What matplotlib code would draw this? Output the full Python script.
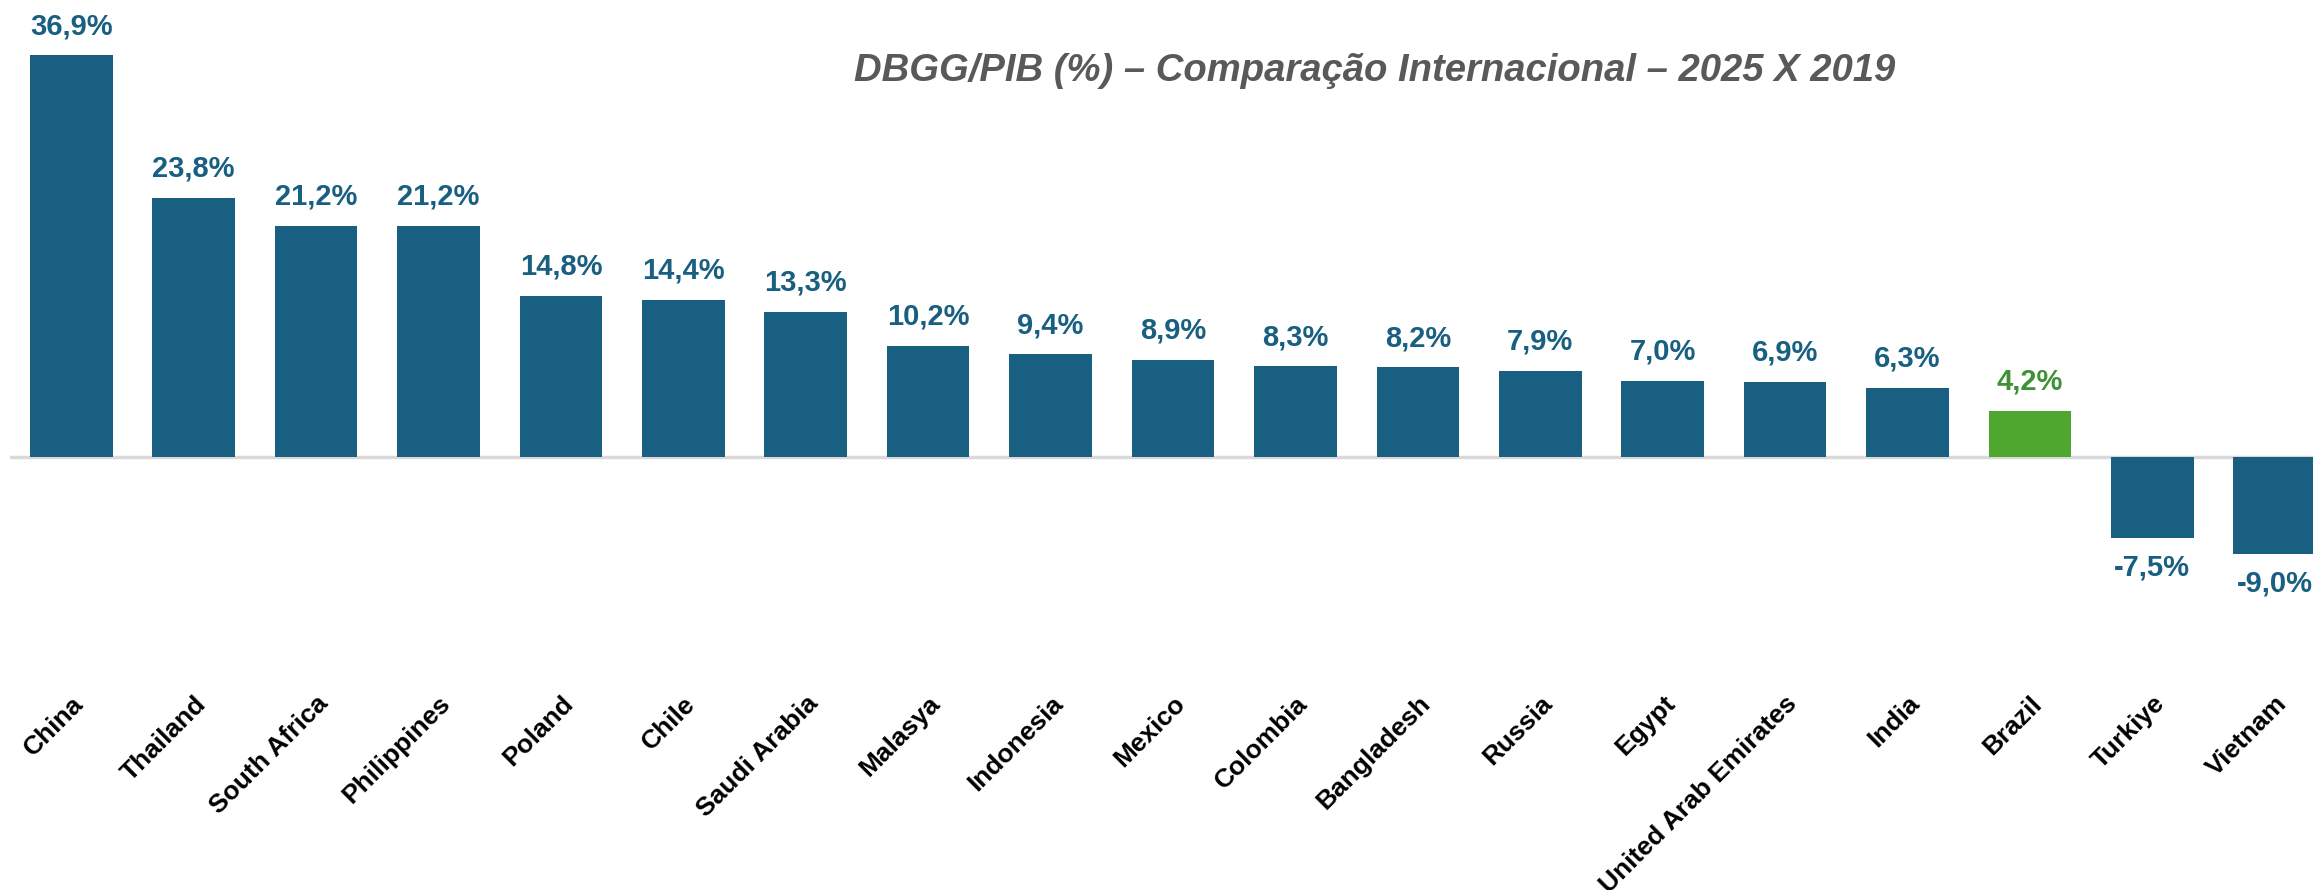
import matplotlib.pyplot as plt

countries = ['China', 'Thailand', 'South Africa', 'Philippines', 'Poland', 'Chile',
             'Saudi Arabia', 'Malasya', 'Indonesia', 'Mexico', 'Colombia', 'Bangladesh',
             'Russia', 'Egypt', 'United Arab Emirates', 'India', 'Brazil', 'Turkiye', 'Vietnam']
values = [36.9, 23.8, 21.2, 21.2, 14.8, 14.4, 13.3, 10.2, 9.4, 8.9, 8.3, 8.2,
          7.9, 7.0, 6.9, 6.3, 4.2, -7.5, -9.0]
highlight = 'Brazil'

blue = '#185F81'
green = '#4EA72E'
green_txt = '#3F9136'

plt.rcParams['font.family'] = ['Liberation Sans', 'DejaVu Sans']

fig = plt.figure(figsize=(23.13, 8.9), dpi=100)
# axes runs a bit past the right edge, as in the original cropped chart
ax = fig.add_axes([10 / 2313, 254 / 890, 2326 / 2313, 636 / 890])

x = range(len(countries))
colors = [green if c == highlight else blue for c in countries]
ax.bar(x, values, width=0.675, color=colors, zorder=2)

for xi, v, c in zip(x, values, countries):
    col = green_txt if c == highlight else blue
    off = 21 if v >= 0 else -21
    ax.annotate(f'{v:.1f}%'.replace('.', ','), (xi, v), xytext=(0, off),
                textcoords='offset points', ha='center', va='center',
                fontsize=21, fontweight='bold', color=col)

ax.axhline(0, color='#D9D9D9', lw=2.5, zorder=1)
ax.set_xlim(-0.5, len(countries) - 0.5)
ax.set_ylim(-16.5, 42)
ax.set_xticks(list(x))
ax.set_xticklabels(countries, rotation=45, ha='right', va='top',
                   rotation_mode='anchor', fontsize=19, fontweight='bold')
ax.tick_params(axis='x', length=0, pad=40)
ax.set_yticks([])
for s in ax.spines.values():
    s.set_visible(False)

fig.text(0.5945, 0.920, 'DBGG/PIB (%) – Comparação Internacional – 2025 X 2019',
         ha='center', va='center', fontsize=27.5, fontweight='bold',
         fontstyle='italic', color='#595959')

fig.savefig('out.png', dpi=100)
